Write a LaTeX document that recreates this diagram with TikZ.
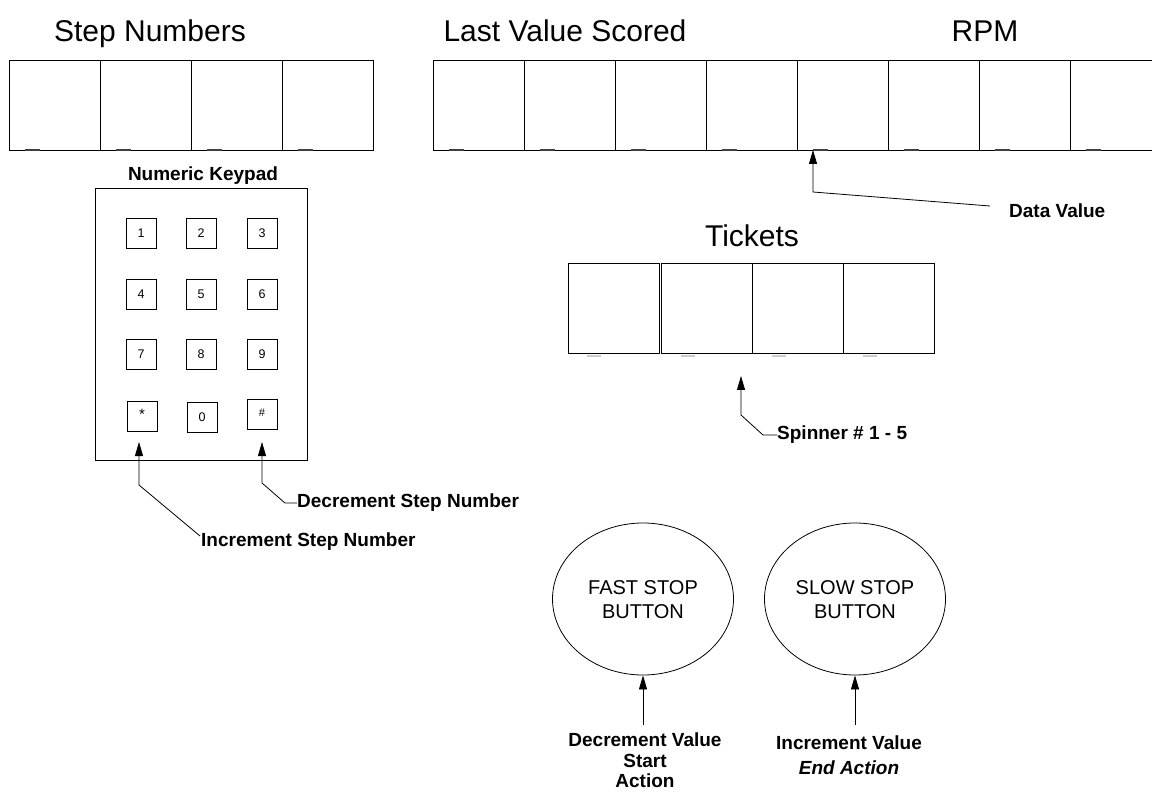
\documentclass[tikz,border=0pt]{standalone}
\usepackage{fontspec}
\setmainfont{Liberation Sans}
\usetikzlibrary{arrows.meta,shapes.geometric}
\begin{document}
\begin{tikzpicture}[x=1pt,y=-1pt,
  title/.style={font=\fontsize{30}{36}\selectfont, inner sep=0},
  lbl/.style={font=\bfseries\fontsize{19}{24}\selectfont, inner sep=0},
  digitbox/.style={draw=black, line width=1.1pt, minimum width=91pt, minimum height=90pt, inner sep=0, anchor=north west},
  keybox/.style={draw=black, line width=0.8pt, minimum size=30pt, inner sep=0, font=\fontsize{12.5}{14}\selectfont},
  btn/.style={draw=black, ellipse, line width=0.8pt, minimum width=181pt, minimum height=152pt, inner sep=0},
  btntext/.style={align=center, inner sep=0, font=\fontsize{20}{24}\selectfont},
  arr/.style={line width=0.8pt, -{Triangle[width=8pt,length=14pt]}},
  dashmark/.style={line width=2pt, black!75},
  faintmark/.style={line width=2pt, black!20}
]
\clip (0,0) rectangle (1152,794);
\fill[white] (0,0) rectangle (1152,794);

% titles
\node[title, anchor=base] (tstep) at (150,42) {Step Numbers};
\node[title, anchor=base] (tlast) at (565,42) {Last Value Scored};
\node[title, anchor=base] (trpm) at (985,42) {RPM};
\node[title, anchor=base] (ttick) at (752,247) {Tickets};

% step number boxes
\foreach \i in {0,...,3}{
  \node[digitbox] (s\i) at ({9+91*\i},60) {};
  \draw[dashmark] ({25+91*\i},150) -- ({40+91*\i},150);
}
% last value / rpm boxes
\foreach \i in {0,...,7}{
  \node[digitbox] (lv\i) at ({433+91*\i},60) {};
  \draw[dashmark] ({449+91*\i},150) -- ({464+91*\i},150);
}
% tickets boxes
\node[digitbox] (tk0) at (568,263) {};
\foreach \i in {1,...,3}{
  \node[digitbox] (tk\i) at ({661+91*(\i-1)},263) {};
}
\foreach \x in {587,681,772,863}{
  \draw[faintmark] (\x,356) -- ({\x+14},356);
}

% keypad
\node[lbl, anchor=base] (kptitle) at (203,181) {Numeric Keypad};
\node[draw=black, line width=1pt, minimum width=212pt, minimum height=272pt, inner sep=0, anchor=north west] (kp) at (95,188) {};
\node[keybox] (k1) at (141,233) {1};
\node[keybox] (k2) at (201,233) {2};
\node[keybox] (k3) at (262,233) {3};
\node[keybox] (k4) at (141,294) {4};
\node[keybox] (k5) at (201,294) {5};
\node[keybox] (k6) at (262,294) {6};
\node[keybox] (k7) at (141,354) {7};
\node[keybox] (k8) at (201,354) {8};
\node[keybox] (k9) at (262,354) {9};
\node[keybox, font=\fontsize{15}{16}\selectfont] (kstar) at (142,416) {\raisebox{3pt}{*}};
\node[keybox] (k0) at (202,417) {0};
\node[keybox, font=\fontsize{11}{13}\selectfont] (khash) at (262,414) {\raisebox{2pt}{\#}};

% keypad labels and arrows
\node[lbl, anchor=west] (inc) at (201,542) {Increment Step Number};
\node[lbl, anchor=west] (dec) at (297,503) {Decrement Step Number};
\coordinate (incA) at (200,536);
\coordinate (incB) at (139,485);
\coordinate (incT) at (139,442);
\draw[arr] (incA) -- (incB) -- (incT);
\coordinate (decB) at (285,503);
\coordinate (decC) at (262,483);
\coordinate (decT) at (262,442);
\draw[arr] (dec.west) -- (decB) -- (decC) -- (decT);

% data value
\node[lbl, anchor=west] (dv) at (1009,211) {Data Value};
\coordinate (dvA) at (990,206);
\coordinate (dvB) at (813,192);
\coordinate (dvT) at (813,150);
\draw[arr] (dvA) -- (dvB) -- (dvT);

% spinner
\node[lbl, anchor=west] (sp) at (777,435) {Spinner \# 1 - 5};
\coordinate (spB) at (763,435);
\coordinate (spC) at (741,415);
\coordinate (spT) at (741,376);
\draw[arr] (sp.west) -- (spB) -- (spC) -- (spT);

% buttons
\node[btn] (fast) at (643,599) {};
\node[btntext] (fasttxt) at (643,600) {FAST STOP\\BUTTON};
\node[btn] (slow) at (855,599) {};
\node[btntext] (slowtxt) at (855,600) {SLOW STOP\\BUTTON};

\node[lbl, align=center, font=\bfseries\fontsize{19}{20.5}\selectfont, anchor=north] (declab) at (645,733) {Decrement Value\\Start\\Action};
\node[lbl, align=center, font=\bfseries\fontsize{19}{24.5}\selectfont, anchor=north] (inclab) at (849,736) {Increment Value\\\textit{End Action}};
\coordinate (fastA) at (643,725);
\coordinate (slowA) at (855,725);
\draw[arr] (fastA) -- (fast.south);
\draw[arr] (slowA) -- (slow.south);
\end{tikzpicture}
\end{document}
